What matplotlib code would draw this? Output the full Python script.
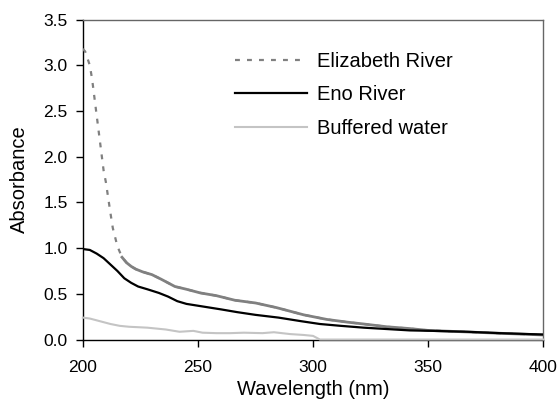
import numpy as np
import matplotlib
matplotlib.use("Agg")
import matplotlib.pyplot as plt

plt.rcParams["font.family"] = ["Liberation Sans", "DejaVu Sans"]

# Absorbance spectra (nm vs. absorbance)
eliz_wl = np.array([200, 201, 203, 204, 205, 206, 207, 208, 209, 210, 211, 212, 213,
                    215, 217, 219, 221, 223, 226, 230, 234, 240, 245, 251, 258, 266,
                    275, 284, 290, 296, 306, 315, 322, 332, 342, 350, 360, 370, 380,
                    390, 400])
eliz_abs = np.array([3.18, 3.15, 3.00, 2.85, 2.65, 2.45, 2.25, 2.05, 1.85, 1.72, 1.55,
                     1.38, 1.22, 1.02, 0.90, 0.84, 0.80, 0.77, 0.74, 0.71, 0.66, 0.58,
                     0.55, 0.51, 0.48, 0.43, 0.40, 0.35, 0.31, 0.27, 0.22, 0.19, 0.17,
                     0.14, 0.12, 0.10, 0.09, 0.08, 0.07, 0.06, 0.05])

eno_wl = np.array([200, 203, 206, 209, 212, 215, 218, 221, 224, 228, 233, 237, 241,
                   245, 250, 255, 260, 267, 275, 285, 295, 303, 312, 322, 332, 342,
                   352, 367, 381, 400])
eno_abs = np.array([0.99, 0.98, 0.94, 0.89, 0.82, 0.75, 0.67, 0.62, 0.58, 0.55, 0.51,
                    0.47, 0.42, 0.39, 0.37, 0.35, 0.33, 0.30, 0.27, 0.24, 0.20, 0.17,
                    0.15, 0.13, 0.115, 0.10, 0.095, 0.085, 0.07, 0.055])

buf_wl = np.array([200, 203, 206, 209, 212, 216, 220, 228, 236, 242, 248, 252, 258,
                   264, 270, 278, 283, 290, 296, 300, 303, 400])
buf_abs = np.array([0.24, 0.23, 0.21, 0.19, 0.17, 0.15, 0.14, 0.13, 0.11, 0.085, 0.095,
                    0.075, 0.07, 0.07, 0.075, 0.07, 0.08, 0.06, 0.05, 0.04, 0.0, 0.0])

x_ticks = [200, 250, 300, 350, 400]
y_ticks = [0.0, 0.5, 1.0, 1.5, 2.0, 2.5, 3.0, 3.5]

fig = plt.figure(figsize=(5.6, 3.99), dpi=100)
ax = fig.add_axes([0.148, 0.149, 0.822, 0.802])

eliz_color = "#808080"
ax.plot(eliz_wl, eliz_abs, color=eliz_color, lw=1.6, ls=(0, (2.2, 3.2)),
        label="Elizabeth River", zorder=3)
# the flat tail is sampled densely enough that the dashes merge into a solid trace
tail = eliz_wl >= 217
ax.plot(eliz_wl[tail], eliz_abs[tail], color=eliz_color, lw=2.0,
        solid_joinstyle="round", zorder=3)
ax.plot(eno_wl, eno_abs, color="black", lw=1.6, label="Eno River", zorder=4)
ax.plot(buf_wl, buf_abs, color="#c4c4c4", lw=1.5, label="Buffered water",
        zorder=5, clip_on=False)

ax.set_xlim(200, 400)
ax.set_ylim(0, 3.5)
ax.set_xticks(x_ticks)
ax.set_yticks(y_ticks)
ax.set_yticklabels([f"{v:.1f}" for v in y_ticks])

for side in ("left", "bottom"):
    ax.spines[side].set_color("black")
    ax.spines[side].set_linewidth(1.0)
for side in ("top", "right"):
    ax.spines[side].set_color("#666666")
    ax.spines[side].set_linewidth(1.0)

ax.tick_params(direction="out", length=5, width=1.0, labelsize=12.5,
               top=False, right=False)
ax.tick_params(axis="y", pad=6)
ax.tick_params(axis="x", pad=10)
ax.set_xlabel("Wavelength (nm)", fontsize=14.5, labelpad=3)
ax.set_ylabel("Absorbance", fontsize=14.5, labelpad=10)

leg = ax.legend(loc="upper left", bbox_to_anchor=(0.330, 0.90), frameon=False,
                fontsize=14.5, handlelength=3.6, handletextpad=0.5,
                labelspacing=0.72, borderaxespad=0, borderpad=0)

fig.savefig("out.png", dpi=100)
